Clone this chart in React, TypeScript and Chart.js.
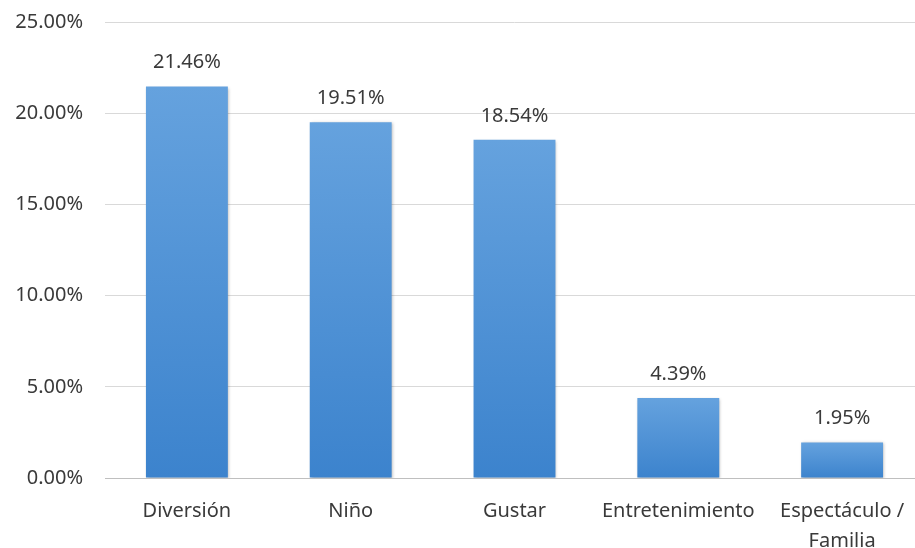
import React, { useEffect, useRef } from "react";
import { Chart, registerables } from "chart.js";

Chart.register(...registerables);

const categories: (string | string[])[] = ["Diversión", "Niño", "Gustar", "Entretenimiento", ["Espectáculo /", "Familia"]];
const values: number[] = [21.46, 19.51, 18.54, 4.39, 1.95];
const yTicks: number[] = [0, 5, 10, 15, 20, 25];

const FONT = "'Noto Sans', sans-serif";
const TEXT = "#3a3a3a";
const FS = 20;

const shadowPlugin = {
  id: "barShadow",
  beforeDatasetsDraw(chart: any) {
    const ctx = chart.ctx;
    ctx.save();
    ctx.shadowColor = "rgba(0,0,0,0.28)";
    ctx.shadowBlur = 3;
    ctx.shadowOffsetX = 1;
    ctx.shadowOffsetY = 1;
  },
  afterDatasetsDraw(chart: any) {
    chart.ctx.restore();
  },
};

const labelPlugin = {
  id: "valueLabels",
  afterDatasetsDraw(chart: any) {
    const ctx = chart.ctx;
    const meta = chart.getDatasetMeta(0);
    ctx.save();
    ctx.font = `${FS}px ${FONT}`;
    ctx.fillStyle = TEXT;
    ctx.textAlign = "center";
    ctx.textBaseline = "middle";
    meta.data.forEach((bar: any, i: number) => {
      ctx.fillText(values[i].toFixed(2) + "%", bar.x, bar.y - 24);
    });
    ctx.restore();
  },
};

export default function App() {
  const ref = useRef<HTMLCanvasElement | null>(null);

  useEffect(() => {
    if (!ref.current) return;
    const chart = new Chart(ref.current, {
      type: "bar",
      data: {
        labels: categories,
        datasets: [
          {
            data: values,
            barPercentage: 0.5,
            categoryPercentage: 1,
            backgroundColor: (c: any) => {
              const ch = c.chart;
              const area = ch.chartArea;
              if (!area || c.dataIndex === undefined) return "#4a8fd4";
              const y = ch.scales.y;
              const top = y.getPixelForValue(values[c.dataIndex]);
              const bottom = y.getPixelForValue(0);
              const g = ch.ctx.createLinearGradient(0, top, 0, bottom);
              g.addColorStop(0, "#65a2de");
              g.addColorStop(1, "#3c83cd");
              return g;
            },
            borderWidth: 0,
          },
        ],
      },
      options: {
        animation: false,
        responsive: true,
        maintainAspectRatio: false,
        layout: { padding: { top: 22, right: 0, left: 0, bottom: 0 } },
        plugins: { legend: { display: false }, tooltip: { enabled: false } },
        scales: {
          x: {
            grid: { display: false },
            border: { display: true, color: "#bfbfbf", width: 1 },
            ticks: {
              color: TEXT,
              font: { family: FONT, size: FS, lineHeight: 1.5 },
              maxRotation: 0,
              autoSkip: false,
              padding: 10,
            },
            afterFit: (s: any) => {
              s.height = 70;
              s.paddingLeft = 0;
              s.paddingRight = 0;
            },
          },
          y: {
            min: 0,
            max: 25,
            afterBuildTicks: (s: any) => {
              s.ticks = yTicks.map((v) => ({ value: v }));
            },
            grid: {
              drawTicks: false,
              color: (c: any) => (c.tick && c.tick.value === 0 ? "#bfbfbf" : "#d9d9d9"),
              lineWidth: 1,
            },
            border: { display: false },
            ticks: {
              color: TEXT,
              font: { family: FONT, size: FS },
              padding: 22,
              callback: (v: any) => Number(v).toFixed(2) + "%",
            },
            afterFit: (s: any) => {
              s.width = 105;
              s.paddingTop = 0;
              s.paddingBottom = 0;
            },
          },
        },
      },
      plugins: [shadowPlugin, labelPlugin],
    });
    return () => chart.destroy();
  }, []);

  return (
    <div style={{ position: "absolute", left: 0, top: 0, width: 915, height: 548, overflow: "hidden", background: "#fff" }}>
      <div style={{ position: "relative", width: 924, height: 548 }}>
        <canvas ref={ref} />
      </div>
    </div>
  );
}
